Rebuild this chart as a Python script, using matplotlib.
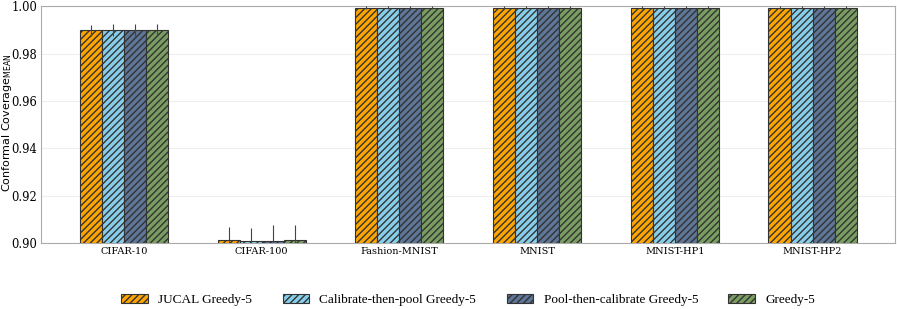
import numpy as np
import matplotlib
matplotlib.use("Agg")
import matplotlib.pyplot as plt

datasets = ["CIFAR-10", "CIFAR-100", "Fashion-MNIST", "MNIST", "MNIST-HP1", "MNIST-HP2"]
methods = ["JUCAL Greedy-5", "Calibrate-then-pool Greedy-5",
           "Pool-then-calibrate Greedy-5", "Greedy-5"]

# mean coverage per method (rows) and dataset (cols)
means = [
    [0.9898, 0.9014, 0.9993, 0.9993, 0.9993, 0.9993],
    [0.9901, 0.9008, 0.9993, 0.9993, 0.9993, 0.9993],
    [0.9901, 0.9011, 0.9993, 0.9993, 0.9993, 0.9993],
    [0.9901, 0.9013, 0.9993, 0.9993, 0.9993, 0.9993],
]
errs = [
    [0.0024, 0.0053, 0.0006, 0.0006, 0.0006, 0.0006],
    [0.0025, 0.0055, 0.0006, 0.0006, 0.0006, 0.0006],
    [0.0025, 0.0065, 0.0006, 0.0006, 0.0006, 0.0006],
    [0.0025, 0.0063, 0.0006, 0.0006, 0.0006, 0.0006],
]
colors = ["#FFA500", "#87CEEB", "#5E7698", "#7A9E62"]

fig, ax = plt.subplots(figsize=(8.97, 3.09), dpi=100)
fig.subplots_adjust(left=0.046, right=0.998, top=0.98, bottom=0.213)

x = np.arange(len(datasets))
w = 0.16
for i in range(len(methods)):
    ax.bar(x + (i - 1.5) * w, means[i], w, yerr=errs[i], color=colors[i],
           edgecolor="#333333", linewidth=0.8, hatch="/////", label=methods[i],
           error_kw=dict(ecolor="#444444", elinewidth=0.8, capsize=0), zorder=3)

ax.set_ylim(0.90, 1.00)
ax.set_xlim(-0.6, 5.6)
ax.set_xticks(x)
ax.set_xticklabels(datasets, family="DejaVu Serif", fontsize=7)
ax.set_yticks([0.90, 0.92, 0.94, 0.96, 0.98, 1.00])
ax.set_yticklabels(["%.2f" % v for v in ax.get_yticks()], family="DejaVu Serif", fontsize=8.3)
ax.tick_params(length=0, pad=3)
ax.set_ylabel(r"Conformal Coverage$_{\mathrm{MEAN}}$", fontsize=8)
ax.yaxis.set_label_coords(-0.0325, 0.51)
ax.grid(axis="y", color="#eeeeee", linewidth=0.8, zorder=0)
for s in ax.spines.values():
    s.set_color("#aaaaaa")

ax.legend(loc="upper center", bbox_to_anchor=(0.5, -0.165), ncol=4, frameon=False,
          prop=dict(family="Liberation Serif", size=9.5), handlelength=2, columnspacing=2.3)

plt.savefig("out.png")
